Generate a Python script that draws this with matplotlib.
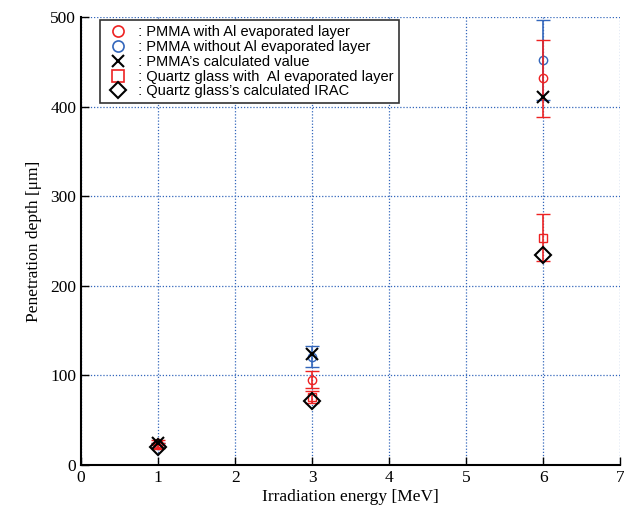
import matplotlib.pyplot as plt
from matplotlib.lines import Line2D

energy = [1, 3, 6]

# PMMA with Al evaporated layer
pmma_al = [25, 95, 432]
pmma_al_lo = [3, 9, 43]
pmma_al_hi = [3, 10, 43]

# PMMA without Al evaporated layer
pmma_noal = [22, 121, 452]
pmma_noal_lo = [3, 12, 45]
pmma_noal_hi = [3, 12, 45]

# PMMA calculated
pmma_calc = [25, 124, 411]

# Quartz glass with Al evaporated layer
quartz_al = [22, 76, 254]
quartz_al_lo = [3, 7, 26]
quartz_al_hi = [3, 7, 26]

# Quartz glass calculated IRAC
quartz_calc = [20, 72, 234]

labels = [" : PMMA with Al evaporated layer",
          " : PMMA without Al evaporated layer",
          " : PMMA\u2019s calculated value",
          " : Quartz glass with  Al evaporated layer",
          " : Quartz glass\u2019s calculated IRAC"]

red = '#ee2222'
blue = '#3366bb'

fig = plt.figure(figsize=(6.24, 5.21), dpi=100)
ax = fig.add_axes([0.13, 0.1075, 0.864, 0.8595])

ax.errorbar(energy, pmma_noal, yerr=[pmma_noal_lo, pmma_noal_hi], fmt='o', mfc='none',
            mec=blue, ecolor=blue, ms=6, capsize=5, elinewidth=1.2, zorder=3)
ax.errorbar(energy, pmma_al, yerr=[pmma_al_lo, pmma_al_hi], fmt='o', mfc='none',
            mec=red, ecolor=red, ms=6, capsize=5, elinewidth=1.2, zorder=4)
ax.errorbar(energy, quartz_al, yerr=[quartz_al_lo, quartz_al_hi], fmt='s', mfc='none',
            mec=red, ecolor=red, ms=6, capsize=5, elinewidth=1.2, zorder=4)
ax.plot(energy, pmma_calc, 'x', color='black', ms=9, mew=1.5, zorder=5)
ax.plot(energy, quartz_calc, 'D', mfc='none', mec='black', ms=8, mew=1.5, zorder=5)

ax.set_xlim(0, 7)
ax.set_ylim(0, 500)
ax.set_xticks(range(0, 8))
ax.set_yticks(range(0, 501, 100))
ax.grid(True, color=blue, linestyle=(0, (1, 1.5)), linewidth=0.9)
ax.set_axisbelow(True)
for s in ['top', 'right']:
    ax.spines[s].set_visible(False)
for s in ['left', 'bottom']:
    ax.spines[s].set_linewidth(1.5)
ax.tick_params(direction='in', length=6, width=1)
for lab in ax.get_xticklabels() + ax.get_yticklabels():
    lab.set_family('Liberation Serif')
    lab.set_fontsize(12.5)

ax.set_xlabel('Irradiation energy [MeV]', family='Liberation Serif', fontsize=12.5, labelpad=2)
ax.set_ylabel('Penetration depth [\u03bcm]', family='Liberation Serif', fontsize=12.5, labelpad=6)

handles = [
    Line2D([], [], ls='none', marker='o', mfc='none', mec=red, ms=8, mew=1.2),
    Line2D([], [], ls='none', marker='o', mfc='none', mec=blue, ms=8, mew=1.2),
    Line2D([], [], ls='none', marker='x', color='black', ms=8, mew=1.5),
    Line2D([], [], ls='none', marker='s', mfc='none', mec=red, ms=8, mew=1.2),
    Line2D([], [], ls='none', marker='D', mfc='none', mec='black', ms=8, mew=1.5),
]
leg = ax.legend(handles, labels,
                loc='upper left', bbox_to_anchor=(0.035, 0.993), borderaxespad=0,
                prop={'family': 'Liberation Sans', 'size': 10.5},
                frameon=True, fancybox=False, edgecolor='#333333', framealpha=1,
                labelspacing=0.05, handletextpad=0.2, handlelength=1.8, borderpad=0.35)
leg.get_frame().set_linewidth(1.2)

fig.savefig('out.png', dpi=100)
